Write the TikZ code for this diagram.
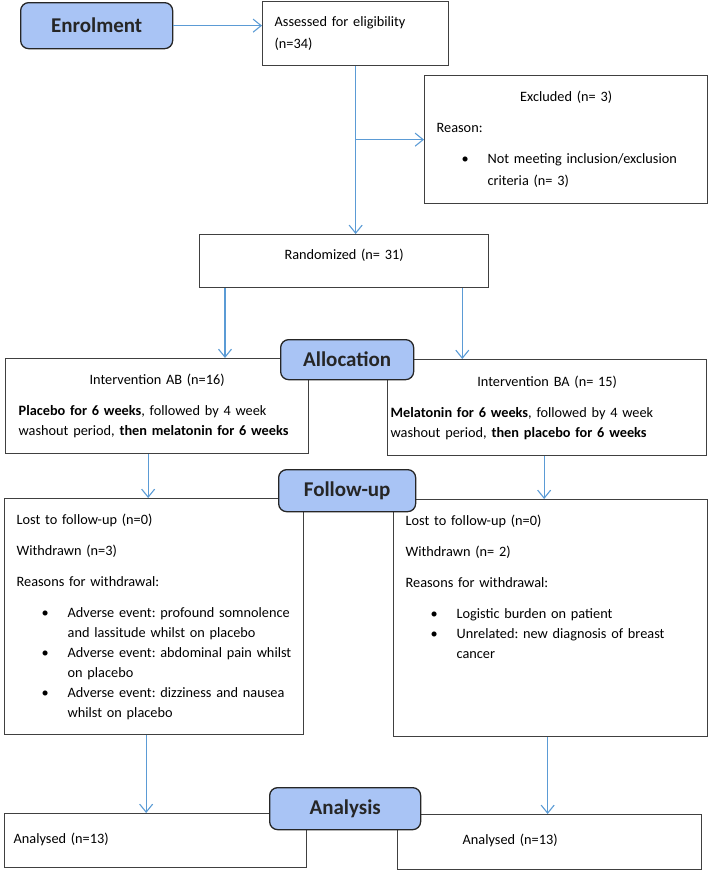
\documentclass[tikz,border=0pt]{standalone}
\usepackage{fontspec}
\setmainfont{Carlito}
\usetikzlibrary{arrows.meta,positioning}
\frenchspacing

\definecolor{flowblue}{RGB}{91,155,213}
\definecolor{phasefill}{RGB}{169,196,245}
\definecolor{boxgray}{RGB}{64,64,64}

% one line of text, indented by #1 pt
\newcommand{\txtline}[2][12]{\par\noindent\hspace*{#1pt}#2\par}
\newcommand{\ctrline}[1]{{\centering #1\par}}
\newcommand{\gap}{\vspace{11pt}}
% bullet line, text starts 51pt after the pad
\newcommand{\bul}[2][12]{\par\noindent\hspace*{\dimexpr#1pt+51pt\relax}\llap{\textbullet\hspace{19pt}}#2\par}
% extra room under the text, pushes it up in its box
\newcommand{\lift}[1]{\vspace{#1pt}\null}

\tikzset{
  box/.style={draw=boxgray, line width=1.3pt, anchor=north west, inner sep=0pt, align=left,
    font=\fontsize{14.3}{20}\selectfont},
  phase/.style={draw=black!85, fill=phasefill, rounded corners=8pt, line width=1.3pt,
    anchor=north west, inner sep=0pt, text=black!85, font=\fontsize{21}{24}\selectfont\bfseries},
  flow/.style={draw=flowblue, line width=1.1pt, -{Straight Barb[length=8pt,width=13pt]}}
}

\begin{document}
\begin{tikzpicture}[x=1pt,y=-1pt]
  \useasboundingbox (0,0) rectangle (709,870);

  % boxes
  \node[box, text width=186pt, minimum height=64pt] (assess) at (262,1)
    {\txtline{Assessed for eligibility}\vspace{2pt}\txtline{(n=34)}\lift{-8}};
  \node[box, text width=283pt, minimum height=128pt] (excl) at (424,75)
    {\ctrline{Excluded (n= 3)}\gap\txtline{Reason:}\gap
     \bul{Not meeting inclusion/exclusion}\vspace{2pt}\txtline[63]{criteria (n= 3)}};
  \node[box, text width=289pt, minimum height=53pt] (rand) at (199,234)
    {\ctrline{Randomized (n= 31)}\lift{-6}};

  \node[box, text width=303pt, minimum height=95pt] (ab) at (5,358)
    {\ctrline{Intervention AB (n=16)}\gap
     \txtline[13]{\textbf{Placebo for 6 weeks}, followed by 4 week}
     \txtline[13]{washout period, \textbf{then melatonin for 6 weeks}}};
  \node[box, text width=319pt, minimum height=96pt] (ba) at (387,359)
    {\ctrline{Intervention BA (n= 15)}\gap
     \txtline[3]{\textbf{Melatonin for 6 weeks}, followed by 4 week}
     \txtline[3]{washout period, \textbf{then placebo for 6 weeks}}};

  \node[box, text width=299pt, minimum height=236pt] (fuab) at (4,498)
    {\txtline{Lost to follow-up (n=0)}\gap\txtline{Withdrawn (n=3)}\gap
     \txtline{Reasons for withdrawal:}\gap
     \bul{Adverse event: profound somnolence}\txtline[63]{and lassitude whilst on placebo}
     \bul{Adverse event: abdominal pain whilst}\txtline[63]{on placebo}
     \bul{Adverse event: dizziness and nausea}\txtline[63]{whilst on placebo}\lift{-8}};
  \node[box, text width=314pt, minimum height=237pt] (fuba) at (393,499)
    {\txtline{Lost to follow-up (n=0)}\gap\txtline{Withdrawn (n= 2)}\gap
     \txtline{Reasons for withdrawal:}\gap
     \bul{Logistic burden on patient}
     \bul{Unrelated: new diagnosis of breast}\txtline[63]{cancer}\lift{52}};

  \node[box, text width=302pt, minimum height=54pt] (anab) at (4,813)
    {\txtline[9]{Analysed (n=13)}\lift{-6}};
  \node[box, text width=304pt, minimum height=55pt] (anba) at (397,814)
    {\txtline[65]{Analysed (n=13)}\lift{-4}};

  % connectors
  \coordinate (ra) at ([xshift=26pt]rand.south west);
  \coordinate (rb) at ([xshift=-27pt]rand.south east);
  \coordinate (ia) at ([xshift=-9pt]ab.south);
  \coordinate (ib) at ([xshift=-3pt]ba.south);
  \coordinate (fa) at ([xshift=-8pt]fuab.south);
  \coordinate (fb) at ([xshift=-3pt]fuba.south);

  \draw[flow] (assess.south) -- (assess.south |- rand.north);
  \draw[flow] (assess.south |- excl.west) -- (excl.west);
  \draw[flow] (ra) -- (ra |- ab.north);
  \draw[flow] (rb) -- (rb |- ba.north);
  \draw[flow] (ia) -- (ia |- fuab.north);
  \draw[flow] (ib) -- (ib |- fuba.north);
  \draw[flow] (fa) -- (fa |- anab.north);
  \draw[flow] (fb) -- (fb |- anba.north);

  % phases
  \node[phase, minimum width=152pt, minimum height=46pt] (enrol) at (20,2) {Enrolment};
  \node[phase, minimum width=133pt, minimum height=40pt] (alloc) at (280,339) {Allocation};
  \node[phase, minimum width=137pt, minimum height=42pt] (follow) at (278,469) {Follow-up};
  \node[phase, minimum width=151pt, minimum height=42pt] (analysis) at (269,787) {Analysis};

  \draw[flow] (enrol.east) -- (enrol.east -| assess.west);
\end{tikzpicture}
\end{document}
